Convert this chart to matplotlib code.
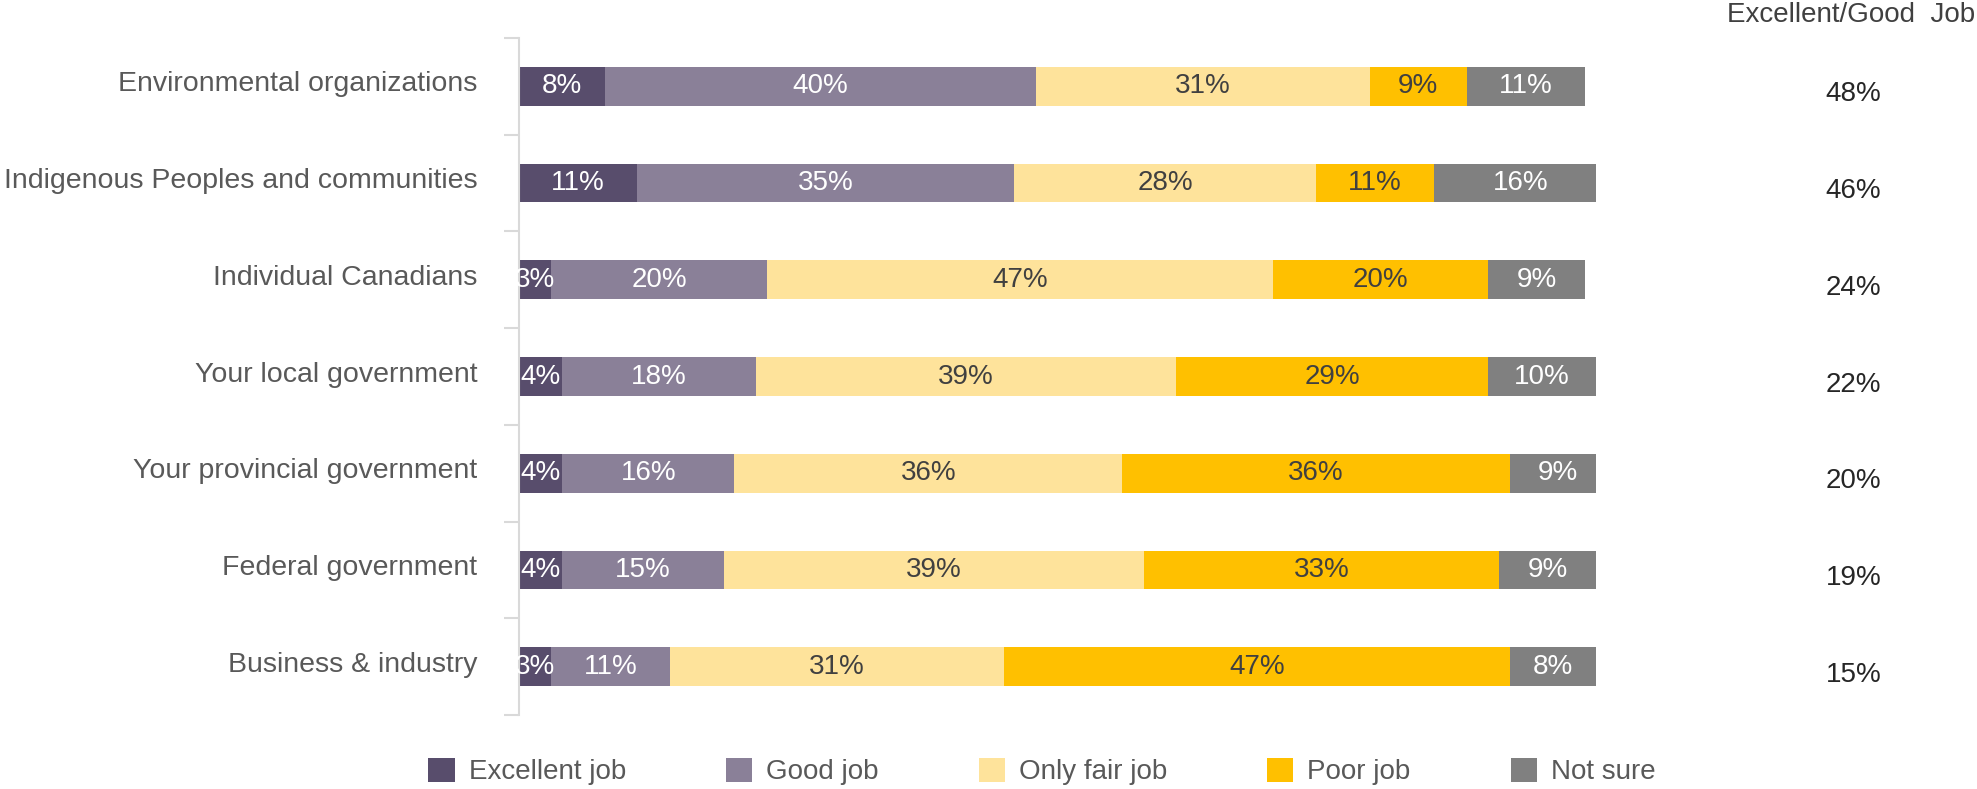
import numpy as np
import matplotlib.pyplot as plt
from matplotlib.patches import Patch
from matplotlib import transforms

plt.rcParams['font.family'] = ['Liberation Sans', 'DejaVu Sans']

categories = ['Environmental organizations', 'Indigenous Peoples and communities',
              'Individual Canadians', 'Your local government',
              'Your provincial government', 'Federal government', 'Business & industry']
series = ['Excellent job', 'Good job', 'Only fair job', 'Poor job', 'Not sure']
excellent = [8, 11, 3, 4, 4, 4, 3]
good = [40, 35, 20, 18, 16, 15, 11]
only_fair = [31, 28, 47, 39, 36, 39, 31]
poor = [9, 11, 20, 29, 36, 33, 47]
not_sure = [11, 16, 9, 10, 9, 9, 8]
exc_good = [48, 46, 24, 22, 20, 19, 15]

colors = ['#584d6c', '#8a8098', '#fee39b', '#ffc000', '#808080']
label_colors = ['white', 'white', '#404040', '#404040', 'white']

fig = plt.figure(figsize=(19.77, 7.89), dpi=100)
ax = fig.add_axes([0.2625, 0.0938, 0.5448, 0.858])

y = np.arange(len(categories))
left = np.zeros(len(categories))
for name, vals, c, lc in zip(series, [excellent, good, only_fair, poor, not_sure], colors, label_colors):
    vals = np.array(vals)
    ax.barh(y, vals, left=left, height=0.4, color=c, label=name)
    for yi, l, v in zip(y, left, vals):
        ax.text(l + v / 2, yi, f'{v}%', ha='center', va='center', color=lc, fontsize=20)
    left += vals

ax.set_xlim(0, 100)
ax.set_ylim(len(categories) - 0.5, -0.5)
ax.set_yticks(y)
ax.set_yticklabels(categories, fontsize=20.5, color='#595959')
ax.tick_params(axis='y', which='major', length=0, pad=30)
ax.set_yticks(np.arange(-0.5, len(categories)), minor=True)
ax.tick_params(axis='y', which='minor', length=11, width=1.5, color='#d9d9d9')
ax.set_xticks([])
for s in ['top', 'right', 'bottom']:
    ax.spines[s].set_visible(False)
ax.spines['left'].set_color('#d9d9d9')
ax.spines['left'].set_linewidth(1.5)

# category names sit a little above the bar centre
shift = transforms.ScaledTranslation(0, 0.05, fig.dpi_scale_trans)
for lab in ax.get_yticklabels():
    lab.set_transform(lab.get_transform() + shift)

# Excellent + Good column on the right
trans = transforms.blended_transform_factory(fig.transFigure, ax.transData)
for yi, v in zip(y, exc_good):
    ax.annotate(f'{v}%', xy=(0.9375, yi), xycoords=trans, xytext=(0, -8),
                textcoords='offset pixels', ha='center', va='center',
                fontsize=20, color='#262626', annotation_clip=False)
fig.text(0.999, 0.981, 'Excellent/Good  Job', ha='right', va='center', fontsize=20, color='#404040')

handles = [Patch(facecolor=c) for c in colors]
leg = fig.legend(handles, series, loc='center', bbox_to_anchor=(0.527, 0.022), ncol=5,
                 frameon=False, fontsize=20, handlelength=0.95, handleheight=0.95,
                 handletextpad=0.5, columnspacing=3.6)
for t in leg.get_texts():
    t.set_color('#595959')

fig.savefig('out.png', dpi=100)
